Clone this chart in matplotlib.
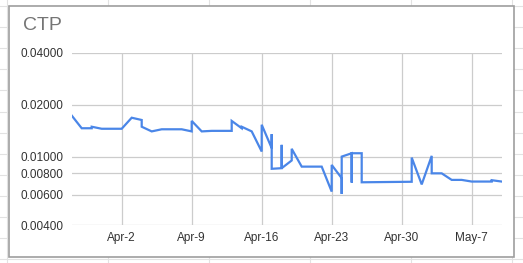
import pandas as pd
import numpy as np
import matplotlib.pyplot as plt
from matplotlib.patches import Rectangle

plt.rcParams['font.family'] = ['Liberation Sans', 'DejaVu Sans']

# CTP price series (repeated dates = several quotes on the same day)
dates = ['2018-03-28', '2018-03-29', '2018-03-30', '2018-03-30', '2018-03-31',
         '2018-04-02', '2018-04-03', '2018-04-04', '2018-04-04', '2018-04-05',
         '2018-04-06', '2018-04-08', '2018-04-09', '2018-04-09', '2018-04-10',
         '2018-04-11', '2018-04-13', '2018-04-13', '2018-04-14', '2018-04-14',
         '2018-04-15', '2018-04-16', '2018-04-16', '2018-04-17', '2018-04-17',
         '2018-04-17', '2018-04-18', '2018-04-18', '2018-04-18', '2018-04-19',
         '2018-04-19', '2018-04-20', '2018-04-22', '2018-04-23', '2018-04-23',
         '2018-04-24', '2018-04-24', '2018-04-24', '2018-04-25', '2018-04-25',
         '2018-04-25', '2018-04-26', '2018-04-26', '2018-05-01', '2018-05-01',
         '2018-05-02', '2018-05-03', '2018-05-03', '2018-05-04', '2018-05-05',
         '2018-05-06', '2018-05-07', '2018-05-09', '2018-05-09', '2018-05-10']
ctp = [0.0173, 0.0146, 0.0146, 0.0149, 0.0145,
       0.0145, 0.0168, 0.0163, 0.0149, 0.0140,
       0.0144, 0.0144, 0.0140, 0.0161, 0.0140,
       0.0141, 0.0141, 0.0161, 0.0146, 0.0149,
       0.0140, 0.0107, 0.0153, 0.0112, 0.0135,
       0.0085, 0.00857, 0.0117, 0.00857, 0.0095,
       0.0111, 0.00875, 0.00875, 0.00627, 0.00895,
       0.0075, 0.00608, 0.0100, 0.01046, 0.00707,
       0.01046, 0.01046, 0.0071, 0.00715, 0.00987,
       0.0069, 0.0101, 0.0080, 0.0080, 0.00733,
       0.00733, 0.00717, 0.00717, 0.0073, 0.00717]

y_ticks = [0.004, 0.006, 0.008, 0.01, 0.02, 0.04]
x_ticks = ['2018-04-02', '2018-04-09', '2018-04-16', '2018-04-23', '2018-04-30', '2018-05-07']
x_labels = ['Apr-2', 'Apr-9', 'Apr-16', 'Apr-23', 'Apr-30', 'May-7']

W, H = 523, 263
fig = plt.figure(figsize=(W / 100, H / 100), dpi=100)

# spreadsheet cell lines behind the chart
for x in [7, 108, 209, 310, 411, 512]:
    fig.add_artist(plt.Line2D([x / W, x / W], [0, 1], color='#e2e2e2', lw=0.8, zorder=-3))
for y in np.arange(6, 264, 21.1):
    fig.add_artist(plt.Line2D([0, 1], [1 - y / H, 1 - y / H], color='#e2e2e2', lw=0.8, zorder=-3))

# chart card
fig.add_artist(Rectangle((9 / W, 1 - 257 / H), (514 - 9) / W, (257 - 6) / H,
                         facecolor='white', edgecolor='#9e9e9e', lw=1.2, zorder=-2))

ax = fig.add_axes([71.7 / W, 1 - 225.3 / H, 430 / W, (225.3 - 52.7) / H])
ax.patch.set_alpha(0)

ax.plot(pd.to_datetime(dates), ctp, color='#4a86e8', lw=1.6, solid_joinstyle='miter')

ax.set_yscale('log')
ax.set_ylim(0.004, 0.04)
ax.set_yticks(y_ticks)
ax.set_yticklabels([f'{v:.5f}' for v in y_ticks])
ax.yaxis.set_minor_locator(plt.NullLocator())

ax.set_xlim(pd.Timestamp('2018-03-28'), pd.Timestamp('2018-05-10'))
ax.set_xticks(pd.to_datetime(x_ticks))
ax.set_xticklabels(x_labels)

ax.grid(True, color='#cccccc', lw=0.9)
ax.set_axisbelow(True)
for s in ax.spines.values():
    s.set_visible(False)
ax.tick_params(length=0, labelsize=8.5, colors='#333333')
ax.tick_params(axis='y', pad=6)
ax.tick_params(axis='x', pad=5)

fig.text(22.7 / W, 1 - 25 / H, 'CTP', fontsize=14, color='#757575', va='center', ha='left')

fig.savefig('out.png', dpi=100)
